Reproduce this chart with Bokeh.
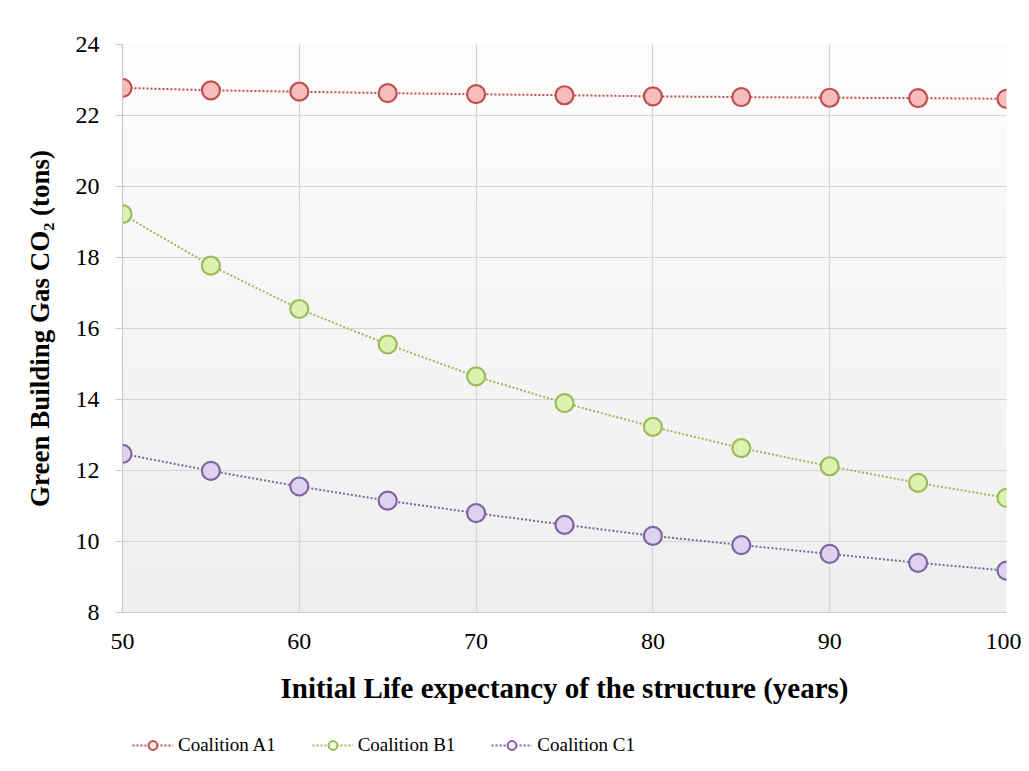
import numpy as np
from bokeh.plotting import figure
from bokeh.layouts import column
from bokeh.models import Range1d, Legend, LegendItem, FixedTicker
from bokeh.embed import file_html
from bokeh.resources import INLINE

years = [50, 55, 60, 65, 70, 75, 80, 85, 90, 95, 100]
coalition_a1 = [22.78, 22.71, 22.67, 22.63, 22.60, 22.57, 22.54, 22.52, 22.50, 22.49, 22.47]
coalition_b1 = [19.22, 17.77, 16.55, 15.55, 14.65, 13.90, 13.23, 12.63, 12.12, 11.65, 11.23]
coalition_c1 = [12.47, 11.99, 11.55, 11.15, 10.80, 10.47, 10.16, 9.90, 9.65, 9.40, 9.18]

series = [
    ("Coalition A1", coalition_a1, "#c0504d", "#f7bcbc", "#fbe6e6"),
    ("Coalition B1", coalition_b1, "#9bbb59", "#dcf2b0", "#f1f9e4"),
    ("Coalition C1", coalition_c1, "#8064a2", "#ddd3f0", "#efebf8"),
]

x_ticks = [50, 60, 70, 80, 90, 100]
y_ticks = [8, 10, 12, 14, 16, 18, 20, 22, 24]
x_title = "Initial Life expectancy of the structure (years)"
y_title = "Green Building Gas CO\u2082 (tons)"

FONT = "Liberation Serif"

p = figure(frame_width=884, frame_height=568, output_backend="svg", toolbar_location=None,
           x_range=Range1d(50, 100), y_range=Range1d(8, 24),
           min_border_left=122, min_border_top=44, min_border_right=15,
           min_border_bottom=113)
p.outline_line_color = None
p.background_fill_color = "#f6f6f6"
p.border_fill_color = "white"

# vertical gradient background of plot area
n = 200
g = np.linspace(0xef, 0xfd, n).astype(np.uint32)
img = np.zeros((n, 1), dtype=np.uint32)
view = img.view(dtype=np.uint8).reshape((n, 1, 4))
view[:, 0, 0] = g
view[:, 0, 1] = g
view[:, 0, 2] = g
view[:, 0, 3] = 255
p.image_rgba(image=[img], x=50, y=8, dw=50, dh=16, level="image")

# grid
p.xgrid.ticker = FixedTicker(ticks=x_ticks)
p.ygrid.ticker = FixedTicker(ticks=y_ticks)
p.grid.grid_line_color = "#d6d6d6"
p.grid.grid_line_width = 1.2

# axes
p.xaxis.ticker = FixedTicker(ticks=x_ticks)
p.yaxis.ticker = FixedTicker(ticks=y_ticks)
for ax in (p.xaxis[0], p.yaxis[0]):
    ax.axis_line_color = "#c8c8c8"
    ax.axis_line_width = 1.2
    ax.major_tick_line_color = "#c8c8c8"
    ax.major_tick_line_width = 1.2
    ax.minor_tick_line_color = None
    ax.major_tick_in = 0
    ax.major_label_text_font = FONT
    ax.major_label_text_font_size = "24px"
    ax.major_label_text_color = "black"
    ax.axis_label_text_font = FONT
    ax.axis_label_text_font_style = "bold"
    ax.axis_label_text_color = "black"

p.xaxis.major_tick_out = 0
p.xaxis.major_label_standoff = 21
p.xaxis.axis_label = x_title
p.xaxis.axis_label_text_font_size = "29px"
p.xaxis.axis_label_standoff = 20
p.yaxis.major_tick_out = 7
p.yaxis.major_label_standoff = 16
p.yaxis.axis_label = y_title
p.yaxis.axis_label_text_font_size = "27px"
p.yaxis.axis_label_standoff = 18

for name, vals, edge, fill, _ in series:
    p.line(years, vals, line_color=edge, line_width=2, line_dash="2 2")
    p.scatter(years, vals, size=18, marker="circle", fill_color=fill,
              line_color=edge, line_width=2.2)

# legend strip below the chart (its own small figure, same data kept out of view)
lg = figure(width=1021, height=40, output_backend="svg", toolbar_location=None,
            x_range=Range1d(0, 1), y_range=Range1d(0, 1),
            x_axis_location=None, y_axis_location=None,
            min_border=0, min_border_left=0, min_border_right=0,
            min_border_top=0, min_border_bottom=0)
lg.grid.grid_line_color = None
lg.outline_line_color = None
lg.background_fill_color = "white"
lg.border_fill_color = "white"

items = []
for name, vals, edge, _, lfill in series:
    lr = lg.line(years, vals, line_color=edge, line_width=2, line_dash="2 2")
    sr = lg.scatter(years, vals, marker="circle", size=9, fill_color=lfill,
                    line_color=edge, line_width=2)
    items.append(LegendItem(label=name, renderers=[lr, sr]))

legend = Legend(items=items, orientation="horizontal", location=(10, 9),
                label_text_font=FONT, label_text_font_size="19px",
                label_text_color="black", glyph_width=41, glyph_height=22,
                label_standoff=5, spacing=36, padding=2, margin=0,
                border_line_color=None, background_fill_alpha=0)
lg.add_layout(legend, "center")

layout = column(p, lg, spacing=0)
open("out.html", "w").write(file_html(layout, INLINE))
